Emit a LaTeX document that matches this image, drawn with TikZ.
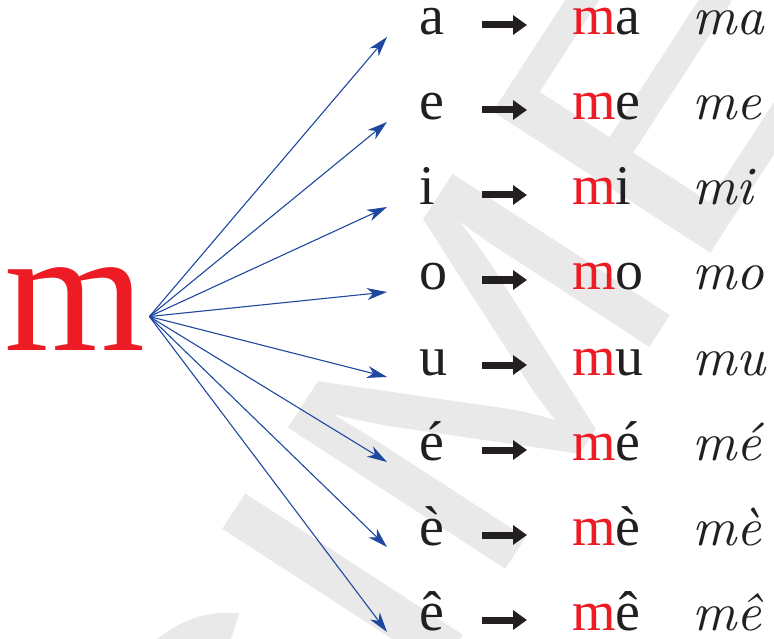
\documentclass[tikz,border=0pt]{standalone}
\usepackage{fontspec}
\setmainfont{Liberation Serif}
\newfontfamily\wmfont{Liberation Sans}
\newfontfamily\curfont{lmroman10-italic}[Extension=.otf]
\usetikzlibrary{arrows.meta}
\definecolor{mred}{RGB}{237,28,36}
\definecolor{fanblue}{RGB}{30,72,160}
\definecolor{wmgray}{RGB}{233,233,233}
\definecolor{ink}{RGB}{35,31,32}

\begin{document}
\begin{tikzpicture}[
  x=1pt, y=-1pt,
  vow/.style={anchor=base west, inner sep=0pt, text width=25pt, text height=20pt,
              text depth=0pt, font=\fontsize{56}{56}\selectfont, text=ink},
  syl/.style={vow, text width=80pt},
  cur/.style={anchor=base west, inner sep=0pt, text height=20pt, text depth=0pt,
              font=\curfont\fontsize{54}{54}\selectfont, text=ink},
  wm/.style={anchor=base west, inner sep=0pt, rotate=57, text=wmgray,
             font=\wmfont\fontsize{377}{377}\selectfont},
  fan/.style={-{Stealth[length=20pt,width=12pt,inset=6pt]}, fanblue, line width=1.1pt},
  arr/.style={-{Triangle[length=14pt,width=19pt]}, ink, line width=7pt,
              shorten <=38pt, shorten >=45pt}]
\useasboundingbox (0,0) rectangle (774,639);

% Watermark
\begin{scope}
\clip (0,0) rectangle (774,639);
\node[wm] (wmark) at (-254,1739) {\scalebox{1.2}[1]{SPÉCIMEN}};
\end{scope}

% Letter m
\node[anchor=base west, inner sep=0pt, text=mred, font=\fontsize{176}{176}\selectfont]
  (bigm) at (4,350) {\scalebox{1.03}[1]{m}};
\coordinate (fan) at ([xshift=4pt,yshift=-8pt]bigm.east);

% Row a
\node[vow] (v1) at (419,35) {a};
\node[syl] (s1) at (572,35) {\textcolor{mred}{m}a};
\node[cur] (c1) at (692,35) {ma};
\draw[arr] (v1.east) -- (s1.west);
\draw[fan] (fan) -- ([xshift=-32pt,yshift=-2pt]v1.base west);

% Row e
\node[vow] (v2) at (419,120) {e};
\node[syl] (s2) at (572,120) {\textcolor{mred}{m}e};
\node[cur] (c2) at (692,120) {me};
\draw[arr] (v2.east) -- (s2.west);
\draw[fan] (fan) -- ([xshift=-32pt,yshift=-2pt]v2.base west);

% Row i
\node[vow] (v3) at (419,205) {i};
\node[syl] (s3) at (572,205) {\textcolor{mred}{m}i};
\node[cur] (c3) at (692,205) {mi};
\draw[arr] (v3.east) -- (s3.west);
\draw[fan] (fan) -- ([xshift=-32pt,yshift=-2pt]v3.base west);

% Row o
\node[vow] (v4) at (419,290) {o};
\node[syl] (s4) at (572,290) {\textcolor{mred}{m}o};
\node[cur] (c4) at (692,290) {mo};
\draw[arr] (v4.east) -- (s4.west);
\draw[fan] (fan) -- ([xshift=-32pt,yshift=-2pt]v4.base west);

% Row u
\node[vow] (v5) at (419,375) {u};
\node[syl] (s5) at (572,375) {\textcolor{mred}{m}u};
\node[cur] (c5) at (692,375) {mu};
\draw[arr] (v5.east) -- (s5.west);
\draw[fan] (fan) -- ([xshift=-32pt,yshift=-2pt]v5.base west);

% Row e acute
\node[vow] (v6) at (419,460) {é};
\node[syl] (s6) at (572,460) {\textcolor{mred}{m}é};
\node[cur] (c6) at (692,460) {mé};
\draw[arr] (v6.east) -- (s6.west);
\draw[fan] (fan) -- ([xshift=-32pt,yshift=-2pt]v6.base west);

% Row e grave
\node[vow] (v7) at (419,545) {è};
\node[syl] (s7) at (572,545) {\textcolor{mred}{m}è};
\node[cur] (c7) at (692,545) {mè};
\draw[arr] (v7.east) -- (s7.west);
\draw[fan] (fan) -- ([xshift=-32pt,yshift=-2pt]v7.base west);

% Row e circumflex
\node[vow] (v8) at (419,630) {ê};
\node[syl] (s8) at (572,630) {\textcolor{mred}{m}ê};
\node[cur] (c8) at (692,630) {mê};
\draw[arr] (v8.east) -- (s8.west);
\draw[fan] (fan) -- ([xshift=-32pt,yshift=-2pt]v8.base west);
\end{tikzpicture}
\end{document}
